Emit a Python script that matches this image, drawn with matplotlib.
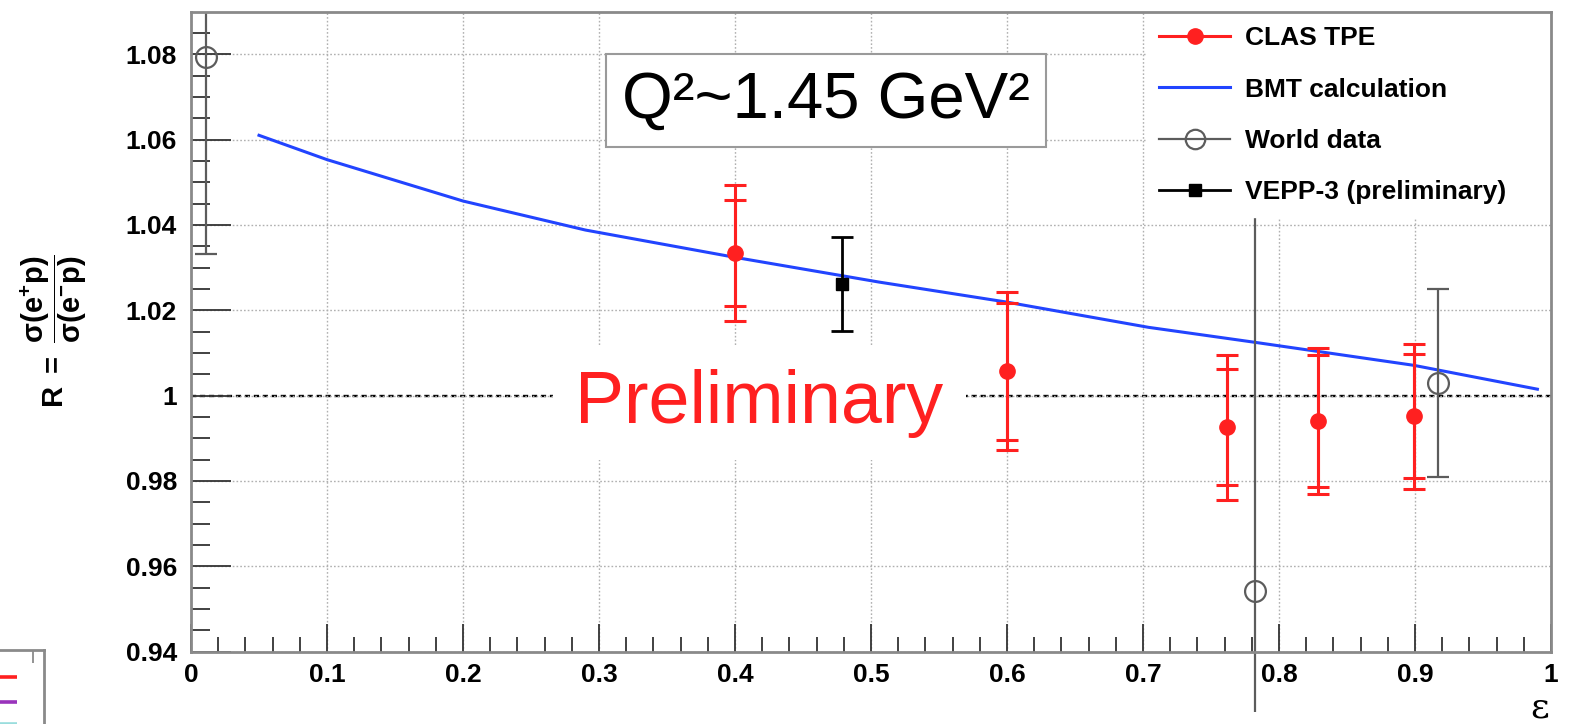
import matplotlib
matplotlib.use('Agg')
import matplotlib.pyplot as plt
from matplotlib.lines import Line2D
from matplotlib.ticker import MultipleLocator, FormatStrFormatter
from matplotlib.transforms import Bbox, TransformedBbox

plt.rcParams['font.family'] = ['Liberation Sans', 'DejaVu Sans']
plt.rcParams['mathtext.fontset'] = 'custom'
plt.rcParams['mathtext.rm'] = 'Liberation Sans:bold'
plt.rcParams['mathtext.it'] = 'Liberation Sans:bold'
plt.rcParams['mathtext.bf'] = 'Liberation Sans:bold'

# CLAS TPE points (stat and total errors)
clas_eps = [0.400, 0.600, 0.762, 0.829, 0.899]
clas_r = [1.0334, 1.0057, 0.9926, 0.9941, 0.9952]
clas_stat = [0.0124, 0.0160, 0.0136, 0.0155, 0.0145]
clas_tot = [0.0160, 0.0185, 0.0170, 0.0171, 0.0170]

# BMT calculation
bmt_eps = [0.05, 0.10, 0.20, 0.29, 0.40, 0.506, 0.60, 0.704, 0.782, 0.899, 0.99]
bmt_r = [1.0610, 1.0553, 1.0456, 1.0388, 1.0324, 1.0266, 1.0219, 1.0160, 1.0125, 1.0071, 1.0015]

# World data
world_eps = [0.011, 0.782, 0.917]
world_r = [1.0793, 0.9543, 1.0029]
world_err = [0.046, 0.100, 0.022]

# VEPP-3 (preliminary)
vepp_eps = [0.479]
vepp_r = [1.0262]
vepp_err = [0.011]

# stray legend fragment at the bottom left
frag_colors = ['#ff2020', '#9933bb', '#99dddd']
frag_levels = [0.635, 0.297, 0.0]

red = '#ff2020'
blue = '#2244ff'
grey = '#5c5c5c'

W, H = 1575, 724
fig = plt.figure(figsize=(W / 100, H / 100), dpi=100)
ax = fig.add_axes([191 / W, 1 - 651.6 / H, 1360 / W, 639.6 / H])

ax.set_xlim(0, 1)
ax.set_ylim(0.94, 1.0899)

ax.grid(True, which='major', color='#b0b0b0', linestyle=(0, (1.2, 1.5)), linewidth=1.0, zorder=0)
ax.axhline(1.0, color='black', linestyle=(0, (2.2, 1.6)), linewidth=1.7, zorder=1.5)

# BMT line
ax.plot(bmt_eps, bmt_r, color=blue, lw=2.2, zorder=2)

# world data, error bars clipped at the pad edge rather than the frame
clip = TransformedBbox(Bbox([[191 / W, 12 / H], [1551 / W, 1 - 12 / H]]), fig.transFigure)
world_eb = ax.errorbar(world_eps, world_r, yerr=world_err, fmt='o', color=grey, mfc='none',
                       ms=15, mew=1.6, elinewidth=1.6, capsize=8, capthick=1.6, zorder=2)
for c in world_eb[2]:
    c.set_clip_box(clip)
for c in world_eb[1]:
    c.set_clip_box(clip)

# VEPP-3
ax.errorbar(vepp_eps, vepp_r, yerr=vepp_err, fmt='s', color='black', ms=9,
            elinewidth=2.0, capsize=8, capthick=2.0, zorder=3)

# CLAS: total errors then stat caps
ax.errorbar(clas_eps, clas_r, yerr=clas_tot, fmt='o', color=red, ms=11,
            elinewidth=2.2, capsize=8, capthick=2.2, zorder=3)
ax.errorbar(clas_eps, clas_r, yerr=clas_stat, fmt='none', ecolor=red,
            elinewidth=2.2, capsize=8, capthick=2.2, zorder=3)

# axes / ticks
for s in ['top', 'right', 'left', 'bottom']:
    ax.spines[s].set_color('#8a8a8a')
    ax.spines[s].set_linewidth(2.0)
    ax.spines[s].set_zorder(7)
ax.xaxis.set_major_locator(MultipleLocator(0.1))
ax.xaxis.set_minor_locator(MultipleLocator(0.02))
ax.yaxis.set_major_locator(MultipleLocator(0.02))
ax.yaxis.set_minor_locator(MultipleLocator(0.005))
ax.xaxis.set_major_formatter(FormatStrFormatter('%g'))
ax.yaxis.set_major_formatter(FormatStrFormatter('%g'))
ax.tick_params(axis='y', which='major', direction='in', length=29, width=1.3, color='#333333',
               pad=10, labelsize=19)
ax.tick_params(axis='y', which='minor', direction='in', length=14, width=1.3, color='#333333')
ax.tick_params(axis='x', which='major', direction='in', length=20, width=1.3, color='#333333',
               pad=8, labelsize=19)
ax.tick_params(axis='x', which='minor', direction='in', length=11, width=1.3, color='#333333')
for lab in ax.get_xticklabels() + ax.get_yticklabels():
    lab.set_fontweight('bold')

# legend
handles = [
    Line2D([], [], color=red, marker='o', ms=11, lw=2.2),
    Line2D([], [], color=blue, lw=2.2),
    Line2D([], [], color=grey, marker='o', mfc='none', ms=14, mew=1.6, lw=1.6),
    Line2D([], [], color='black', marker='s', ms=9, lw=2.0),
]
labels = ['CLAS TPE', 'BMT calculation', 'World data', 'VEPP-3 (preliminary)']
leg = ax.legend(handles, labels, loc='upper left', bbox_to_anchor=(0.702, 0.0, 0.297, 0.998),
                mode='expand', borderaxespad=0, frameon=True, fancybox=False,
                edgecolor='white', framealpha=1, prop={'size': 19, 'weight': 'bold'},
                handlelength=2.7, handletextpad=0.55, labelspacing=1.03, borderpad=0.5)
leg.set_zorder(6)

# text boxes
ax.text(0.467, 1.0692, 'Q²~1.45 GeV²', fontsize=47, ha='center', va='center', zorder=5,
        bbox=dict(boxstyle='square,pad=0.25', fc='white', ec='#9a9a9a', lw=1.5))
ax.text(0.418, 0.99356, 'Preliminary', fontsize=53, color=red, ha='center', va='baseline',
        zorder=4, bbox=dict(boxstyle='square,pad=0.3', fc='white', ec='none'))

# axis titles
fig.text(54 / W, 1 - 331 / H, r'$\mathrm{R\ =\ \dfrac{\sigma(e^{+}p)}{\sigma(e^{-}p)}}$',
         rotation=90, ha='center', va='center', fontsize=21)
fig.text(1540 / W, 1 - 707 / H, 'ε', fontsize=26, family='DejaVu Serif', ha='center', va='center')

# fragment of another legend in the corner
fax = fig.add_axes([0, 0, 44 / W, 74 / H])
fax.set_xlim(0, 1)
fax.set_ylim(0, 1)
fax.patch.set_alpha(0)
for s in ['left', 'bottom']:
    fax.spines[s].set_visible(False)
for s in ['top', 'right']:
    fax.spines[s].set_color('#8a8a8a')
    fax.spines[s].set_linewidth(2.0)
fax.set_yticks([])
fax.xaxis.tick_top()
fax.set_xticks([0.75])
fax.set_xticklabels([])
fax.tick_params(axis='x', direction='in', length=9, width=1.3, color='#8a8a8a')
for col, lev in zip(frag_colors, frag_levels):
    fax.plot([0, 0.39], [lev, lev], color=col, lw=2.6, solid_capstyle='butt', clip_on=False)

fig.savefig('out.png', dpi=100)
